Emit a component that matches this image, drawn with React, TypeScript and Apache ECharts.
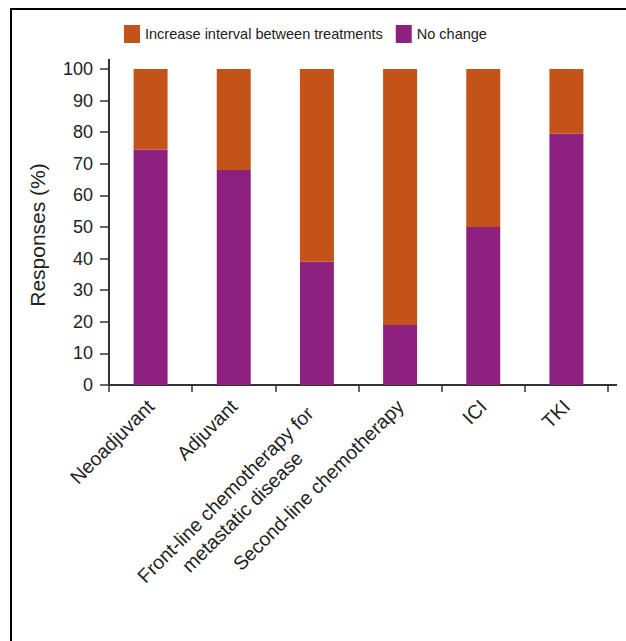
import React, { useEffect, useRef } from "react";
import * as echarts from "echarts";

const categories = [
  "Neoadjuvant",
  "Adjuvant",
  "Front-line chemotherapy for\nmetastatic disease",
  "Second-line chemotherapy",
  "ICI",
  "TKI",
];
const noChange = [74.5, 68, 39, 19, 50, 79.5];
const increaseInterval = [25.5, 32, 61, 81, 50, 20.5];
const seriesNames = ["Increase interval between treatments", "No change"];
const yTicks = [0, 10, 20, 30, 40, 50, 60, 70, 80, 90, 100];

const ORANGE = "#C4531A";
const PURPLE = "#8E2180";
const TEXT = "#222222";
const AXIS = "#333333";
const FONT = "'Liberation Sans', Arial, sans-serif";
const CAT_SIZE = 19.5;

export default function App() {
  const ref = useRef<HTMLDivElement>(null);
  useEffect(() => {
    document.body.style.margin = "0";
    const chart = echarts.init(ref.current!, null, { renderer: "svg" });
    chart.setOption({
      animation: false,
      backgroundColor: "#ffffff",
      textStyle: { fontFamily: FONT, color: TEXT },
      legend: {
        data: seriesNames,
        left: 119,
        top: 20,
        itemWidth: 16,
        itemHeight: 18,
        itemGap: 13,
        icon: "rect",
        textStyle: { fontSize: 14.5, color: TEXT, fontFamily: FONT },
      },
      grid: { left: 109, right: 18, top: 69, bottom: 256, containLabel: false },
      xAxis: {
        type: "category",
        data: categories,
        axisLine: { lineStyle: { color: AXIS, width: 2 } },
        axisTick: { show: true, length: 7, lineStyle: { color: AXIS, width: 1.5 } },
        axisLabel: {
          rotate: 45,
          interval: 0,
          margin: 18,
          fontSize: CAT_SIZE,
          color: TEXT,
          fontFamily: FONT,
          formatter: (v: string) => {
            const parts = v.split("\n");
            if (parts.length > 1)
              return "{e| }\n{a|" + parts[0] + "}\n{b|" + parts[1] + "}";
            return v;
          },
          rich: {
            e: { fontSize: CAT_SIZE, lineHeight: 24, fontFamily: FONT },
            a: {
              fontSize: CAT_SIZE,
              color: TEXT,
              fontFamily: FONT,
              lineHeight: 24,
              padding: [0, 10, 0, 0],
            },
            b: {
              fontSize: CAT_SIZE,
              color: TEXT,
              fontFamily: FONT,
              lineHeight: 24,
              padding: [0, 49, 0, 0],
            },
          },
        },
      },
      yAxis: {
        type: "value",
        min: yTicks[0],
        max: yTicks[yTicks.length - 1],
        interval: 10,
        splitLine: { show: false },
        axisLine: { show: true, lineStyle: { color: AXIS, width: 2 } },
        axisTick: { show: true, length: 9, lineStyle: { color: AXIS, width: 1.5 } },
        axisLabel: { margin: 16, fontSize: 18, color: TEXT, fontFamily: FONT },
      },
      series: [
        {
          name: seriesNames[1],
          type: "bar",
          stack: "total",
          data: noChange,
          barWidth: 34,
          itemStyle: { color: PURPLE },
        },
        {
          name: seriesNames[0],
          type: "bar",
          stack: "total",
          data: increaseInterval,
          barWidth: 34,
          itemStyle: { color: ORANGE },
        },
      ],
      graphic: [
        {
          type: "rect",
          shape: { x: 11, y: 9, width: 800, height: 800 },
          style: { fill: "none", stroke: "#000", lineWidth: 2 },
          silent: true,
        },
        {
          type: "line",
          shape: { x1: 109, y1: 59, x2: 109, y2: 70 },
          style: { stroke: AXIS, lineWidth: 2 },
        },
        {
          type: "line",
          shape: { x1: 607, y1: 385, x2: 617, y2: 385 },
          style: { stroke: AXIS, lineWidth: 2 },
        },
        {
          type: "text",
          x: 37,
          y: 235,
          rotation: Math.PI / 2,
          style: {
            text: "Responses (%)",
            fontSize: 21,
            fontFamily: FONT,
            fill: TEXT,
            align: "center",
            verticalAlign: "middle",
          },
        },
      ],
    });
    return () => chart.dispose();
  }, []);
  return <div ref={ref} style={{ width: 626, height: 641 }} />;
}
